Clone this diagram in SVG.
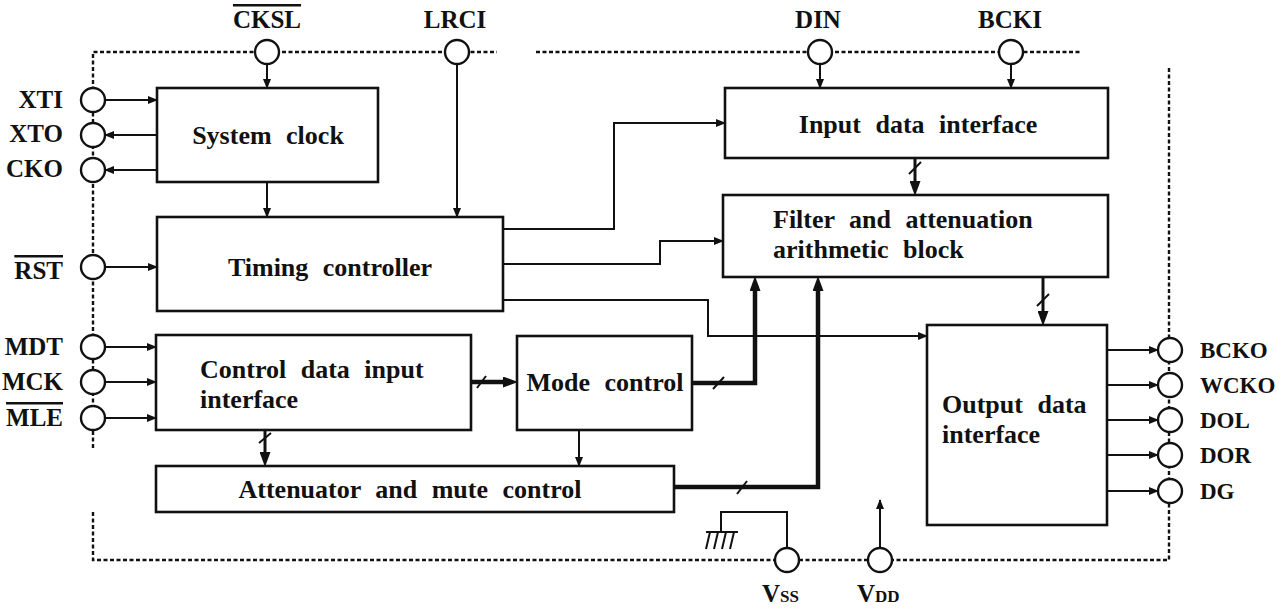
<svg xmlns="http://www.w3.org/2000/svg" width="1284" height="611" viewBox="0 0 1284 611">
<style>
.box{fill:none;stroke:#111;stroke-width:2.6}
.ln{fill:none;stroke:#111;stroke-width:2}
.thk{fill:none;stroke:#111;stroke-width:4.5}
.mid{fill:none;stroke:#111;stroke-width:3}
.dash{fill:none;stroke:#111;stroke-width:2.4;stroke-dasharray:4 2.5}
.pin{fill:#fff;stroke:#111;stroke-width:2.4}
.t{font-family:"Liberation Serif","Times New Roman",serif;font-weight:bold;font-size:26px;fill:#111;word-spacing:8px}
.lb{font-family:"Liberation Serif","Times New Roman",serif;font-weight:bold;font-size:25px;fill:#111}
.rb{font-size:23px}
.ov{text-decoration:overline}
</style>
<defs>
<marker id="a" markerUnits="userSpaceOnUse" markerWidth="10" markerHeight="8" refX="9" refY="4" orient="auto"><path d="M0,0 L10,4 L0,8 z" fill="#111"/></marker>
<marker id="A" markerUnits="userSpaceOnUse" markerWidth="15" markerHeight="11" refX="4" refY="5.5" orient="auto"><path d="M0,0 L15,5.5 L0,11 z" fill="#111"/></marker>
</defs>

<g id="frame">
<path class="dash" d="M93,448 V52 H497"/>
<path class="dash" d="M536,52 H1080"/>
<path class="dash" d="M1169,68 V560 H93 V510"/>
</g>

<g id="connectors">
<path class="ln" d="M267,64 V88" marker-end="url(#a)"/>
<path class="ln" d="M457,64 V217" marker-end="url(#a)"/>
<path class="ln" d="M820,64 V88" marker-end="url(#a)"/>
<path class="ln" d="M1011,64 V88" marker-end="url(#a)"/>
<path class="ln" d="M105,100 H157" marker-end="url(#a)"/>
<path class="ln" d="M157,135 H105" marker-end="url(#a)"/>
<path class="ln" d="M157,170 H105" marker-end="url(#a)"/>
<path class="ln" d="M105,267 H157" marker-end="url(#a)"/>
<path class="ln" d="M105,347 H156" marker-end="url(#a)"/>
<path class="ln" d="M105,382 H156" marker-end="url(#a)"/>
<path class="ln" d="M105,418 H156" marker-end="url(#a)"/>
<path class="ln" d="M267,182 V217" marker-end="url(#a)"/>
<path class="ln" d="M503,229 H614 V123 H725" marker-end="url(#a)"/>
<path class="ln" d="M503,264 H660 V241 H723" marker-end="url(#a)"/>
<path class="ln" d="M503,300 H708 V336 H927" marker-end="url(#a)"/>
<path class="thk" d="M471,382 H507" marker-end="url(#A)"/>
<path class="mid" d="M265,430 V456" marker-end="url(#A)"/>
<path class="ln" d="M579,430 V466" marker-end="url(#a)"/>
<path class="thk" d="M692,383 H755 V287" marker-end="url(#A)"/>
<path class="thk" d="M674,487 H818 V287" marker-end="url(#A)"/>
<path class="mid" d="M915,158 V185" marker-end="url(#A)"/>
<path class="mid" d="M1043,277 V315" marker-end="url(#A)"/>
<path class="ln" d="M1107,350 H1158" marker-end="url(#a)"/>
<path class="ln" d="M1107,385 H1158" marker-end="url(#a)"/>
<path class="ln" d="M1107,420 H1158" marker-end="url(#a)"/>
<path class="ln" d="M1107,455 H1158" marker-end="url(#a)"/>
<path class="ln" d="M1107,491 H1158" marker-end="url(#a)"/>
<path class="ln" d="M880,548 V500" marker-end="url(#a)"/>
<path class="ln" d="M787,548 V512 H721 V532"/>
<path class="ln" d="M706,532 H738 M710,532 L706,549 M718,532 L714,549 M726,532 L722,549 M734,532 L730,549"/>
<g class="ln">
<path d="M909,174 L921,162"/>
<path d="M1037,306 L1049,294"/>
<path d="M477,388 L486,376"/>
<path d="M713,389 L724,377"/>
<path d="M737,494 L747,481"/>
<path d="M259,443 L271,433"/>
</g>
</g>

<g id="pins">
<circle class="pin" cx="267" cy="52" r="12"/>
<circle class="pin" cx="457" cy="52" r="12"/>
<circle class="pin" cx="820" cy="52" r="12"/>
<circle class="pin" cx="1011" cy="52" r="12"/>
<circle class="pin" cx="93" cy="100" r="12"/>
<circle class="pin" cx="93" cy="135" r="12"/>
<circle class="pin" cx="93" cy="170" r="12"/>
<circle class="pin" cx="93" cy="267" r="12"/>
<circle class="pin" cx="93" cy="347" r="12"/>
<circle class="pin" cx="93" cy="382" r="12"/>
<circle class="pin" cx="93" cy="418" r="12"/>
<circle class="pin" cx="1170" cy="350" r="12"/>
<circle class="pin" cx="1170" cy="385" r="12"/>
<circle class="pin" cx="1170" cy="420" r="12"/>
<circle class="pin" cx="1170" cy="455" r="12"/>
<circle class="pin" cx="1170" cy="491" r="12"/>
<circle class="pin" cx="787" cy="560" r="12"/>
<circle class="pin" cx="880" cy="560" r="12"/>
<text class="lb ov" x="267" y="28" text-anchor="middle">CKSL</text>
<text class="lb" x="455" y="28" text-anchor="middle">LRCI</text>
<text class="lb" x="818" y="28" text-anchor="middle">DIN</text>
<text class="lb" x="1010" y="28" text-anchor="middle">BCKI</text>
<text class="lb" x="63" y="108" text-anchor="end">XTI</text>
<text class="lb" x="63" y="142" text-anchor="end">XTO</text>
<text class="lb" x="63" y="177" text-anchor="end">CKO</text>
<text class="lb ov" x="63" y="279" text-anchor="end">RST</text>
<text class="lb" x="63" y="355" text-anchor="end">MDT</text>
<text class="lb" x="63" y="390" text-anchor="end">MCK</text>
<text class="lb ov" x="63" y="426" text-anchor="end">MLE</text>
<text class="lb rb" x="1200" y="358">BCKO</text>
<text class="lb rb" x="1200" y="393">WCKO</text>
<text class="lb rb" x="1200" y="428">DOL</text>
<text class="lb rb" x="1200" y="463">DOR</text>
<text class="lb rb" x="1200" y="499">DG</text>
<text class="lb" x="762" y="602">V<tspan font-size="17">SS</tspan></text>
<text class="lb" x="857" y="602">V<tspan font-size="17">DD</tspan></text>
</g>

<g id="system-clock">
<rect class="box" x="157" y="88" width="221" height="94"/>
<text class="t" x="268" y="144" text-anchor="middle">System clock</text>
</g>
<g id="timing-controller">
<rect class="box" x="157" y="217" width="346" height="94"/>
<text class="t" x="330" y="276" text-anchor="middle">Timing controller</text>
</g>
<g id="control-data-input-interface">
<rect class="box" x="156" y="335" width="315" height="95"/>
<text class="t" x="200" y="378">Control data input</text>
<text class="t" x="200" y="408">interface</text>
</g>
<g id="mode-control">
<rect class="box" x="517" y="336" width="175" height="94"/>
<text class="t" x="605" y="391" text-anchor="middle">Mode control</text>
</g>
<g id="attenuator-mute-control">
<rect class="box" x="156" y="466" width="518" height="46"/>
<text class="t" x="410" y="498" text-anchor="middle">Attenuator and mute control</text>
</g>
<g id="input-data-interface">
<rect class="box" x="725" y="88" width="383" height="70"/>
<text class="t" x="918" y="133" text-anchor="middle">Input data interface</text>
</g>
<g id="filter-attenuation">
<rect class="box" x="723" y="195" width="385" height="82"/>
<text class="t" x="773" y="228">Filter and attenuation</text>
<text class="t" x="773" y="258">arithmetic block</text>
</g>
<g id="output-data-interface">
<rect class="box" x="927" y="325" width="180" height="200"/>
<text class="t" x="942" y="413">Output data</text>
<text class="t" x="942" y="443">interface</text>
</g>
</svg>
